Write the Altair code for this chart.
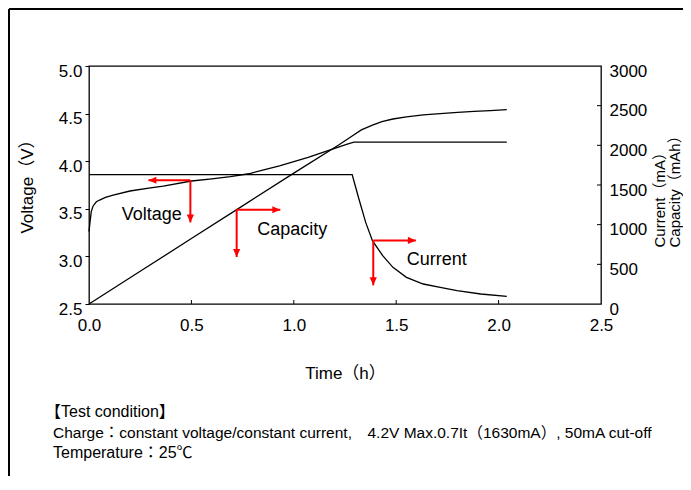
import altair as alt
import pandas as pd

FONT = '"Liberation Sans", Arial, "Noto Sans CJK JP", sans-serif'

# ---------------- data ----------------
volt_t = [0.0, 0.005, 0.011, 0.02, 0.036, 0.052, 0.08, 0.118, 0.2, 0.3, 0.363, 0.5,
          0.6, 0.69, 0.78, 0.853, 0.93, 1.0, 1.07, 1.131, 1.2, 1.261, 1.294, 1.5, 1.8, 2.04]
volt_v = [3.26, 3.36, 3.47, 3.53, 3.574, 3.592, 3.62, 3.644, 3.687, 3.72, 3.739, 3.792,
          3.815, 3.838, 3.868, 3.908, 3.95, 3.996, 4.04, 4.085, 4.135, 4.18, 4.2, 4.2, 4.2, 4.2]

cap_t = [0.0, 0.25, 0.5, 0.75, 1.0, 1.219, 1.285, 1.33, 1.384, 1.43, 1.484, 1.55,
         1.632, 1.715, 1.8, 1.88, 1.96, 2.04]
cap_v = [0, 412, 825, 1237, 1650, 2005, 2118, 2195, 2255, 2300, 2332, 2358,
         2385, 2400, 2415, 2428, 2438, 2450]

cur_t = [0.0, 1.285, 1.3, 1.318, 1.351, 1.384, 1.434, 1.484, 1.55, 1.632, 1.715, 1.797, 1.913, 2.04]
cur_v = [1630, 1630, 1490, 1324, 1029, 798, 609, 462, 336, 252, 210, 168, 126, 97]

x_ticks = [0.0, 0.5, 1.0, 1.5, 2.0, 2.5]
x_inner_ticks = [0.5, 1.0, 1.5, 2.0]
volt_ticks = [2.5, 3.0, 3.5, 4.0, 4.5, 5.0]
ma_ticks = [0, 500, 1000, 1500, 2000, 2500, 3000]
ma_inner_ticks = [500, 1000, 1500, 2000, 2500]

arrow_name = ["Voltage", "Capacity", "Current"]
arrow_t = [0.495, 0.721, 1.388]          # corner of each arrow
arrow_y = [3.80, 1188, 801]              # Voltage in V, others in mA
arrow_tip_t = [0.29, 0.934, 1.596]       # horizontal arrow tip
arrow_tip_y = [3.357, 592, 235]          # vertical arrow tip
arrow_dir = ["left", "right", "right"]

label_t = [0.306, 0.992, 1.698]
label_y = [3.437, 936, 558]

foot_lines = [
    "【Test condition】",
    "Charge：constant voltage/constant current,　4.2V Max.0.7It（1630mA）, 50mA cut-off",
    "Temperature：25℃",
]

# ---------------- layout ----------------
W, H = 512, 238
PAD = {"left": 81, "top": 58, "right": 82, "bottom": 172}

volt_df = pd.DataFrame({"t": volt_t, "v": volt_v})
ma_df = pd.concat([
    pd.DataFrame({"t": cap_t, "mA": cap_v, "series": "Capacity"}),
    pd.DataFrame({"t": cur_t, "mA": cur_v, "series": "Current"}),
])

arr = pd.DataFrame({"name": arrow_name, "t": arrow_t, "y": arrow_y,
                    "tt": arrow_tip_t, "ty": arrow_tip_y, "dir": arrow_dir})
heads = pd.concat([
    pd.DataFrame({"name": arrow_name, "t": arrow_tip_t, "y": arrow_y, "dir": arrow_dir}),
    pd.DataFrame({"name": arrow_name, "t": arrow_t, "y": arrow_tip_y, "dir": ["down"] * 3}),
])
labels = pd.DataFrame({"name": arrow_name, "t": label_t, "y": label_y})

x_scale = alt.Scale(domain=[0, 2.5], nice=False, zero=False)
v_scale = alt.Scale(domain=[2.5, 5.0], nice=False, zero=False)
m_scale = alt.Scale(domain=[0, 3000], nice=False, zero=False)

x_axis = alt.Axis(values=x_ticks, format=".1f", title="Time（h）", ticks=False, tickSize=0,
                  labelPadding=13, labelFlush=False, titleX=256, titleY=69,
                  titleAlign="center", titleBaseline="middle")
v_axis = alt.Axis(orient="left", values=volt_ticks, format=".1f", title="Voltage（V）",
                  tickSize=4, tickColor="black", labelPadding=3, labelOffset=5,
                  titleAngle=270, titleX=-62, titleY=116, titleAlign="center",
                  titleBaseline="middle")
m_axis = alt.Axis(orient="right", values=ma_ticks, format="d",
                  title=["Current（mA）", "Capacity（mAh）"], ticks=False, tickSize=0,
                  labelPadding=8, labelOffset=5, titleAngle=270, titleX=51, titleY=181,
                  titleAlign="left", titleBaseline="top", titleLineHeight=15, titleFontSize=15)

shape_scale = alt.Scale(domain=["left", "right", "down"],
                        range=["M0,0L2,-0.9L2,0.9Z", "M0,0L-2,-0.9L-2,0.9Z", "M0,0L-0.9,-2L0.9,-2Z"])

RED = "#ff0000"


def X(field="t"):
    return alt.X(f"{field}:Q", scale=x_scale, axis=x_axis)


def YV(field):
    return alt.Y(f"{field}:Q", scale=v_scale, axis=v_axis)


def YM(field):
    return alt.Y(f"{field}:Q", scale=m_scale, axis=m_axis)


# ---------- left (voltage) group ----------
volt_line = alt.Chart(volt_df).mark_line(color="black", strokeWidth=1.3).encode(
    x=X(), y=YV("v"))

arr_v = arr[arr["name"] == "Voltage"]
heads_v = heads[heads["name"] == "Voltage"]
arr_m = arr[arr["name"] != "Voltage"]
heads_m = heads[heads["name"] != "Voltage"]

v_h = alt.Chart(arr_v).mark_rule(color=RED, strokeWidth=2).encode(x=X(), x2="tt:Q", y=YV("y"))
v_v = alt.Chart(arr_v).mark_rule(color=RED, strokeWidth=2).encode(x=X(), y=YV("y"), y2="ty:Q")
v_heads = alt.Chart(heads_v).mark_point(filled=True, color=RED, opacity=1, size=64, strokeWidth=0).encode(
    x=X(), y=YV("y"), shape=alt.Shape("dir:N", scale=shape_scale, legend=None))
v_label = alt.Chart(labels[labels["name"] == "Voltage"]).mark_text(
    font=FONT, fontSize=18, color="black").encode(x=X(), y=YV("y"), text="name:N")

bottom_ticks = alt.Chart(pd.DataFrame({"t": x_inner_ticks})).mark_rule(color="black", strokeWidth=1).encode(
    x=X(), y=alt.value(H), y2=alt.value(H - 4))

one = pd.DataFrame({"a": [0]})
frame_top = alt.Chart(one).mark_rule(color="black", strokeWidth=2).encode(
    x=alt.value(-PAD["left"] + 1), x2=alt.value(W + PAD["right"]), y=alt.value(-PAD["top"] + 1))
frame_left = alt.Chart(one).mark_rule(color="black", strokeWidth=2).encode(
    x=alt.value(-PAD["left"] + 1), y=alt.value(-PAD["top"] + 1), y2=alt.value(H + PAD["bottom"]))

foot_size = [16, 15.5, 16]
foot = []
for i, line in enumerate(foot_lines):
    foot.append(alt.Chart(one).mark_text(font=FONT, fontSize=foot_size[i], color="black", align="left",
                                         baseline="alphabetic").encode(
        x=alt.value(-36 if i else -44), y=alt.value(351 + 20.5 * i), text=alt.value(line)))

left = alt.layer(volt_line, v_h, v_v, v_heads, v_label, bottom_ticks, frame_top, frame_left, *foot)

# ---------- right (mA) group ----------
ma_lines = alt.Chart(ma_df).mark_line(color="black", strokeWidth=1.3).encode(
    x=X(), y=YM("mA"), detail="series:N")
m_h = alt.Chart(arr_m).mark_rule(color=RED, strokeWidth=2).encode(x=X(), x2="tt:Q", y=YM("y"))
m_v = alt.Chart(arr_m).mark_rule(color=RED, strokeWidth=2).encode(x=X(), y=YM("y"), y2="ty:Q")
m_heads = alt.Chart(heads_m).mark_point(filled=True, color=RED, opacity=1, size=64, strokeWidth=0).encode(
    x=X(), y=YM("y"), shape=alt.Shape("dir:N", scale=shape_scale, legend=None))
m_label = alt.Chart(labels[labels["name"] != "Voltage"]).mark_text(
    font=FONT, fontSize=18, color="black").encode(x=X(), y=YM("y"), text="name:N")
right_ticks = alt.Chart(pd.DataFrame({"m": ma_inner_ticks})).mark_rule(color="black", strokeWidth=1).encode(
    y=YM("m"), x=alt.value(W), x2=alt.value(W - 4))

right = alt.layer(ma_lines, m_h, m_v, m_heads, m_label, right_ticks)

chart = alt.layer(left, right).resolve_scale(y="independent").properties(
    width=W, height=H, autosize=alt.AutoSizeParams(type="none"), padding=PAD,
    background="white",
).configure_view(stroke="black", strokeWidth=1.3).configure_axis(
    domain=False, grid=False, labelFont=FONT, labelFontSize=17, labelColor="black",
    titleFont=FONT, titleFontSize=17, titleFontWeight="normal", titleColor="black",
)

chart.save("out.html", embed_options={"renderer": "svg", "actions": False})
